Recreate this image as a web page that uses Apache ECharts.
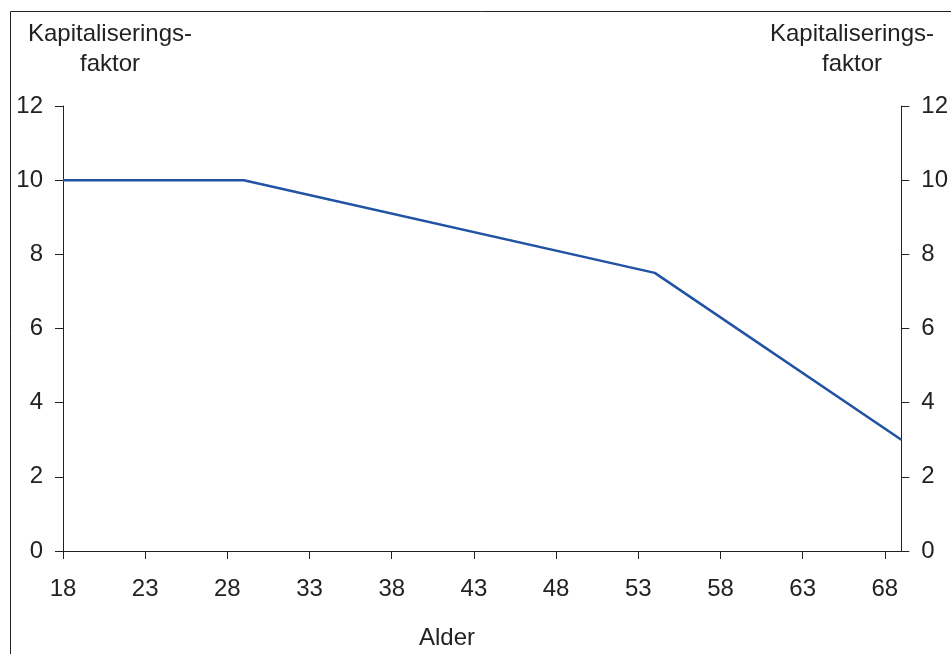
<!DOCTYPE html>
<html>
<head>
<meta charset="utf-8">
<script src="https://cdn.jsdelivr.net/npm/echarts@6/dist/echarts.min.js"></script>
<style>
html,body{margin:0;padding:0;background:#fff;}
#chart{width:951px;height:654px;}
</style>
</head>
<body>
<div id="chart"></div>
<script>
// Data
var ages = [18, 29, 54, 69];
var factors = [10, 10, 7.5, 3];
var xTicks = [18, 23, 28, 33, 38, 43, 48, 53, 58, 63, 68];
var yTicks = [0, 2, 4, 6, 8, 10, 12];
var yTitle = 'Kapitaliserings-\nfaktor';
var xTitle = 'Alder';

var points = ages.map(function (a, i) { return [a, factors[i]]; });
var FONT = '"Liberation Sans", Arial, sans-serif';
var TXT = '#222222';

var chart = echarts.init(document.getElementById('chart'), null, {renderer: 'canvas'});
var yAxisCommon = {
  type: 'value', min: yTicks[0], max: yTicks[yTicks.length - 1], interval: 2,
  axisLine: {show: true, lineStyle: {color: TXT, width: 1}},
  axisTick: {show: true, inside: false, length: 8, lineStyle: {color: TXT, width: 1}},
  axisLabel: {color: TXT, fontSize: 24, fontFamily: FONT, margin: 20},
  splitLine: {show: false}
};
chart.setOption({
  animation: false,
  backgroundColor: '#ffffff',
  grid: {left: 63, right: 47, top: 106, bottom: 103, containLabel: false},
  xAxis: {
    type: 'value', min: xTicks[0], max: 69, interval: 5,
    axisLine: {show: true, onZero: false, lineStyle: {color: TXT, width: 1}},
    axisTick: {show: true, inside: false, length: 8, lineStyle: {color: TXT, width: 1}},
    axisLabel: {color: TXT, fontSize: 24, fontFamily: FONT, margin: 26, showMaxLabel: false,
      formatter: function (v) { return xTicks.indexOf(v) >= 0 ? String(v) : ''; }},
    splitLine: {show: false}
  },
  yAxis: [
    Object.assign({position: 'left'}, yAxisCommon),
    Object.assign({position: 'right'}, yAxisCommon)
  ],
  series: [{
    type: 'line', data: points, yAxisIndex: 0,
    showSymbol: false, symbol: 'none',
    lineStyle: {color: '#2152a3', width: 2.5},
    z: 5
  }],
  graphic: [
    {type: 'rect', shape: {x: 10.5, y: 11.5, width: 1200, height: 1200},
     style: {fill: 'none', stroke: '#222', lineWidth: 1}, silent: true, z: 0},
    {type: 'text', x: 110, y: 20,
     style: {text: yTitle, font: '24px ' + FONT, fill: TXT, align: 'center', verticalAlign: 'top', lineHeight: 29.5}},
    {type: 'text', x: 852, y: 20,
     style: {text: yTitle, font: '24px ' + FONT, fill: TXT, align: 'center', verticalAlign: 'top', lineHeight: 29.5}},
    {type: 'text', x: 447, y: 638,
     style: {text: xTitle, font: '24px ' + FONT, fill: TXT, align: 'center', verticalAlign: 'middle'}}
  ]
});
</script>
</body>
</html>
